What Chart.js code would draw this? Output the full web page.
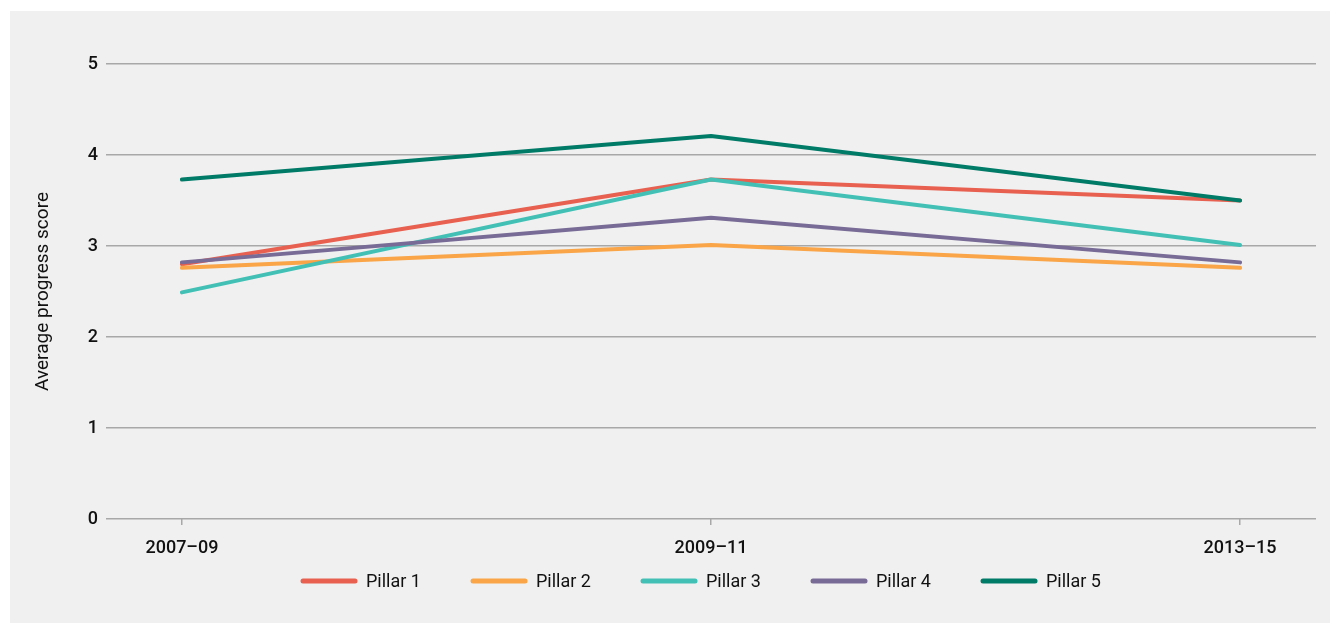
<!DOCTYPE html>
<html>
<head>
<meta charset="utf-8">
<script src="https://cdn.jsdelivr.net/npm/chart.js@4.4.0/dist/chart.umd.min.js"></script>
<style>
  html, body { margin:0; padding:0; background:#fff; }
  #panel { position:absolute; left:10px; top:11px; width:1320px; height:612px; background:#f0f0f0; }
  #chart { display:block; }
</style>
</head>
<body>
<div id="panel"><canvas id="chart" width="1320" height="612"></canvas></div>
<script>
// --- Data ---
const periods = ['2007–09', '2009–11', '2013–15'];
const pillarNames = ['Pillar 1', 'Pillar 2', 'Pillar 3', 'Pillar 4', 'Pillar 5'];
const pillar1 = [2.80, 3.73, 3.50];
const pillar2 = [2.76, 3.01, 2.76];
const pillar3 = [2.49, 3.73, 3.01];
const pillar4 = [2.82, 3.31, 2.82];
const pillar5 = [3.73, 4.21, 3.50];
const yTicks = [0, 1, 2, 3, 4, 5];

const colors = ['#e8604f', '#f9a548', '#42c0b5', '#786b96', '#007b68'];
const series = [pillar1, pillar2, pillar3, pillar4, pillar5];

const FONT = "'Roboto', sans-serif";

const datasets = series.map((vals, i) => ({
  label: pillarNames[i],
  data: vals.map((v, j) => ({ x: j, y: v })),
  borderColor: colors[i],
  backgroundColor: colors[i],
  borderWidth: 4,
  pointRadius: 0,
  tension: 0,
  borderCapStyle: 'round',
  borderJoinStyle: 'round',
  order: i === 4 ? 0 : 5 - i
}));

// legend drawn by hand: short thick line + label, one row under the axis
const lineLegend = {
  id: 'lineLegend',
  afterDraw(chart) {
    const ctx = chart.ctx;
    const area = chart.chartArea;
    const y = area.bottom + 62;
    let x = area.left + 197;
    ctx.save();
    ctx.font = '18px ' + FONT;
    ctx.textBaseline = 'middle';
    chart.data.datasets.forEach(ds => {
      ctx.strokeStyle = ds.borderColor;
      ctx.lineWidth = 5;
      ctx.lineCap = 'round';
      ctx.beginPath();
      ctx.moveTo(x, y);
      ctx.lineTo(x + 52, y);
      ctx.stroke();
      ctx.fillStyle = '#111';
      ctx.fillText(ds.label, x + 63, y + 1);
      x += 170;
    });
    ctx.restore();
  }
};

new Chart(document.getElementById('chart'), {
  type: 'line',
  data: { datasets },
  plugins: [lineLegend],
  options: {
    responsive: false,
    animation: false,
    layout: { padding: { top: 53, right: 14, left: 0, bottom: 64 } },
    plugins: {
      tooltip: { enabled: false },
      legend: { display: false }
    },
    scales: {
      x: {
        type: 'linear',
        min: -0.1435,
        max: 2.1435,
        afterBuildTicks: s => { s.ticks = periods.map((_, i) => ({ value: i })); },
        afterFit: s => { s.height = 40; },
        ticks: {
          callback: v => periods[v],
          color: '#111',
          font: { family: FONT, size: 18, weight: '500' },
          padding: 13,
          maxRotation: 0
        },
        grid: { drawOnChartArea: false, color: '#a8a8a8', tickLength: 6, lineWidth: 1.5 },
        border: { display: false }
      },
      y: {
        min: 0,
        max: 5,
        afterBuildTicks: s => { s.ticks = yTicks.map(v => ({ value: v })); },
        afterFit: s => { s.width = 96; },
        ticks: {
          color: '#111',
          font: { family: FONT, size: 18, weight: '500' },
          padding: 8
        },
        grid: { color: '#a8a8a8', lineWidth: 1.5, drawTicks: false },
        border: { display: false },
        title: {
          display: true,
          text: 'Average progress score',
          color: '#111',
          font: { family: FONT, size: 19 },
          padding: { top: 22, bottom: 0 }
        }
      }
    }
  }
});
</script>
</body>
</html>
